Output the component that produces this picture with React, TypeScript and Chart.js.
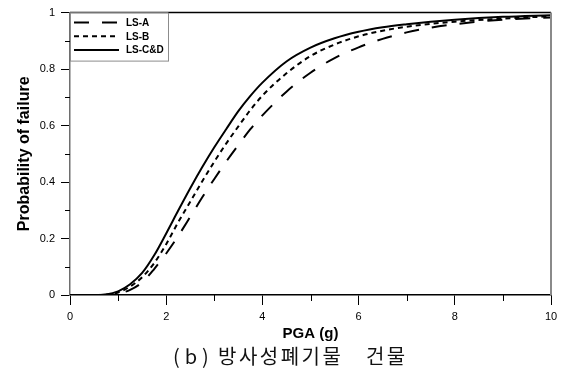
import { useEffect, useRef } from "react";
import { Chart, registerables } from "chart.js";

Chart.register(...registerables);

// Peak ground acceleration (g) sample points
const pga = [0, 0.5, 0.75, 1, 1.25, 1.5, 1.75, 2, 2.25, 2.5, 2.75, 3, 3.25, 3.5, 3.75, 4, 4.5, 5, 5.5, 6, 6.5, 7, 7.5, 8, 9, 10];

// Fragility curves: probability of failure per limit state
const lsA = [0, 0, 0.0005, 0.005, 0.018, 0.045, 0.092, 0.147, 0.209, 0.277, 0.346, 0.411, 0.473, 0.531, 0.587, 0.636, 0.72, 0.787, 0.839, 0.877, 0.907, 0.93, 0.947, 0.959, 0.975, 0.983];
const lsB = [0, 0, 0.001, 0.009, 0.03, 0.063, 0.113, 0.18, 0.258, 0.33, 0.403, 0.472, 0.537, 0.597, 0.655, 0.706, 0.785, 0.846, 0.887, 0.916, 0.936, 0.95, 0.96, 0.968, 0.979, 0.987];
const lsCD = [0, 0, 0.002, 0.013, 0.038, 0.078, 0.1405, 0.218, 0.299, 0.378, 0.453, 0.523, 0.588, 0.651, 0.705, 0.752, 0.827, 0.876, 0.909, 0.932, 0.948, 0.959, 0.968, 0.975, 0.985, 0.991];

const seriesLabels = ["LS-A", "LS-B", "LS-C&D"];
const seriesDashes = [[15, 13], [5, 4], []];

// Minor tick positions (major ticks come from the scales themselves)
const xMinorTicks = [1, 3, 5, 7, 9];
const yMinorTicks = [0.1, 0.3, 0.5, 0.7, 0.9];

const xTitle = "PGA (g)";
const yTitle = "Probability of failure";
const captionTag = "(b)";
const captionText = "방사성폐기물\u3000건물";

const FONT = '"Liberation Sans", Arial, Helvetica, sans-serif';
const KFONT = '"Noto Sans CJK KR", "Noto Sans", sans-serif';

const framePlugin = {
  id: "frameAndLegend",
  afterDatasetsDraw(chart: any) {
    const { ctx, chartArea: a, scales } = chart;
    const xs = scales.x;
    const ys = scales.y;
    ctx.save();

    // minor ticks
    ctx.strokeStyle = "#000";
    ctx.lineWidth = 1;
    xMinorTicks.forEach((v) => {
      const px = Math.round(xs.getPixelForValue(v)) + 0.5;
      ctx.beginPath();
      ctx.moveTo(px, a.bottom);
      ctx.lineTo(px, a.bottom + 6);
      ctx.stroke();
    });
    yMinorTicks.forEach((v) => {
      const py = Math.round(ys.getPixelForValue(v)) + 0.5;
      ctx.beginPath();
      ctx.moveTo(a.left - 5, py);
      ctx.lineTo(a.left, py);
      ctx.stroke();
    });

    // top border
    ctx.strokeStyle = "#000";
    ctx.lineWidth = 1.5;
    ctx.beginPath();
    ctx.moveTo(a.left, a.top);
    ctx.lineTo(a.right, a.top);
    ctx.stroke();
    // right border
    ctx.strokeStyle = "#8a8a8a";
    ctx.lineWidth = 2;
    ctx.beginPath();
    ctx.moveTo(a.right, a.top);
    ctx.lineTo(a.right, a.bottom);
    ctx.stroke();

    // legend box in the upper-left corner of the plot
    const bx = a.left;
    const by = a.top;
    const bw = 98;
    const bh = 48;
    ctx.fillStyle = "#fff";
    ctx.fillRect(bx, by, bw, bh);
    ctx.strokeStyle = "#8c8c8c";
    ctx.lineWidth = 1;
    ctx.strokeRect(bx + 0.5, by + 0.5, bw, bh);
    ctx.font = `bold 10px ${FONT}`;
    ctx.textBaseline = "middle";
    ctx.textAlign = "left";
    chart.data.datasets.forEach((ds: any, i: number) => {
      const ry = by + 10 + i * 13.7;
      ctx.strokeStyle = "#000";
      ctx.lineWidth = 2;
      ctx.setLineDash(ds.borderDash || []);
      ctx.beginPath();
      ctx.moveTo(bx + 4, ry);
      ctx.lineTo(bx + 49, ry);
      ctx.stroke();
      ctx.setLineDash([]);
      ctx.fillStyle = "#000";
      ctx.fillText(ds.label, bx + 56, ry + 0.5);
    });

    // caption under the chart
    ctx.fillStyle = "#111";
    ctx.font = `20px ${KFONT}`;
    ctx.textBaseline = "middle";
    (ctx as any).letterSpacing = "5px";
    ctx.fillText(captionTag, 173, 356);
    (ctx as any).letterSpacing = "2.5px";
    ctx.fillText(captionText, 218, 356);
    (ctx as any).letterSpacing = "0px";

    ctx.restore();
  },
};

export default function App() {
  const canvasRef = useRef<HTMLCanvasElement | null>(null);

  useEffect(() => {
    if (!canvasRef.current) return;
    const datasets = [lsA, lsB, lsCD].map((vals, i) => ({
      label: seriesLabels[i],
      data: pga.map((x, j) => ({ x, y: vals[j] })),
      borderColor: "#000",
      backgroundColor: "#000",
      borderWidth: 2,
      borderDash: seriesDashes[i],
      pointRadius: 0,
      fill: false,
      cubicInterpolationMode: "monotone" as const,
    }));

    const chart = new Chart(canvasRef.current, {
      type: "line",
      data: { datasets },
      plugins: [framePlugin],
      options: {
        animation: false,
        responsive: false,
        devicePixelRatio: 1,
        layout: { padding: { top: 6, right: 14, bottom: 0, left: 0 } },
        plugins: {
          legend: { display: false },
          tooltip: { enabled: false },
        },
        scales: {
          x: {
            type: "linear",
            min: 0,
            max: 10,
            afterFit: (s: any) => {
              s.height = 79;
            },
            ticks: {
              stepSize: 2,
              padding: 5,
              color: "#000",
              font: { family: FONT, size: 11 },
              maxRotation: 0,
            },
            grid: {
              drawOnChartArea: false,
              drawTicks: true,
              tickLength: 10,
              tickColor: "#000",
              tickWidth: 1,
            },
            border: { display: true, color: "#000", width: 1.5 },
            title: {
              display: true,
              text: xTitle,
              color: "#000",
              font: { family: FONT, size: 15, weight: "bold" },
              padding: { top: 0, bottom: 31 },
            },
          },
          y: {
            type: "linear",
            min: 0,
            max: 1,
            afterFit: (s: any) => {
              s.width = 70;
            },
            ticks: {
              stepSize: 0.2,
              padding: 6,
              color: "#000",
              font: { family: FONT, size: 11 },
              callback: (v: any) => String(Math.round(Number(v) * 10) / 10),
            },
            grid: {
              drawOnChartArea: false,
              drawTicks: true,
              tickLength: 9,
              tickColor: "#000",
              tickWidth: 1,
            },
            border: { display: true, color: "#6e6e6e", width: 1.5 },
            title: {
              display: true,
              text: yTitle,
              color: "#000",
              font: { family: FONT, size: 16, weight: "bold" },
              padding: { top: 15, bottom: 0 },
            },
          },
        },
      },
    });
    return () => chart.destroy();
  }, []);

  return (
    <div style={{ position: "fixed", left: 0, top: 0, width: 565, height: 374, background: "#fff" }}>
      <canvas ref={canvasRef} width={565} height={374} style={{ display: "block" }} />
    </div>
  );
}
